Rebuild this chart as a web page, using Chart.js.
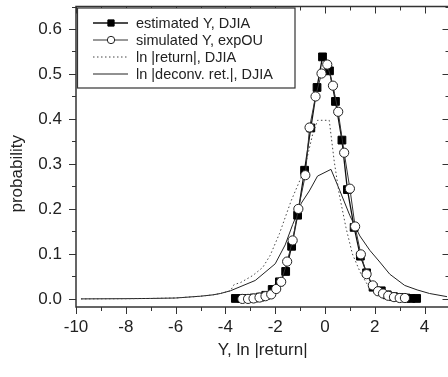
<!DOCTYPE html>
<html>
<head>
<meta charset="utf-8">
<script src="https://cdn.jsdelivr.net/npm/chart.js@4.4.1/dist/chart.umd.min.js"></script>
<style>
html, body { margin: 0; padding: 0; background: #fff; overflow: hidden; }
#wrap { width: 456px; height: 377px; }
</style>
</head>
<body>
<div id="wrap"><canvas id="myChart" width="456" height="377"></canvas></div>
<script>
// estimated Y, DJIA (filled squares)
const estX = [-3.6, -3.35, -3.1, -2.85, -2.6, -2.38, -2.12, -1.83, -1.58, -1.34, -1.1, -0.82, -0.57, -0.32, -0.1, 0.18, 0.42, 0.68, 0.9, 1.17, 1.42, 1.67, 1.93, 2.26, 2.5, 2.75, 3.0, 3.25, 3.45, 3.68];
const estY = [0.001, 0.001, 0.001, 0.002, 0.004, 0.008, 0.021, 0.038, 0.061, 0.117, 0.186, 0.286, 0.38, 0.47, 0.538, 0.507, 0.439, 0.353, 0.243, 0.159, 0.095, 0.058, 0.026, 0.018, 0.009, 0.005, 0.003, 0.002, 0.001, 0.001];

// simulated Y, expOU (open circles)
const simX = [-3.32, -3.09, -2.87, -2.63, -2.39, -2.16, -1.96, -1.76, -1.52, -1.3, -1.07, -0.79, -0.62, -0.38, -0.14, 0.09, 0.32, 0.53, 0.77, 1.0, 1.21, 1.44, 1.67, 1.92, 2.13, 2.33, 2.54, 2.77, 3.0, 3.21];
const simY = [0.0, 0.0, 0.001, 0.003, 0.006, 0.010, 0.022, 0.038, 0.083, 0.13, 0.2, 0.275, 0.381, 0.45, 0.501, 0.521, 0.474, 0.416, 0.325, 0.245, 0.161, 0.099, 0.055, 0.03, 0.017, 0.012, 0.007, 0.004, 0.002, 0.002];

// ln |return|, DJIA (dotted)
const retX = [-9.8, -8, -7, -6, -5, -4.5, -4.2, -3.8, -3.65, -3.4, -2.9, -2.5, -2.2, -1.83, -1.36, -0.96, -0.82, -0.5, -0.3, 0.17, 0.37, 0.57, 0.84, 1.1, 1.44, 1.77, 2.0];
const retY = [0.0, 0.0005, 0.001, 0.002, 0.006, 0.009, 0.012, 0.018, 0.032, 0.036, 0.052, 0.07, 0.097, 0.145, 0.218, 0.27, 0.29, 0.365, 0.397, 0.397, 0.306, 0.233, 0.159, 0.10, 0.056, 0.026, 0.015];

// ln |deconv. ret.|, DJIA (solid)
const decX = [-9.8, -8, -7, -6, -5, -4.5, -4.2, -3.8, -2.8, -2.0, -1.6, -1.3, -1.1, -0.95, -0.63, -0.3, 0.24, 0.6, 1.0, 1.4, 1.8, 2.2, 2.6, 3.2, 3.7, 4.2, 4.9];
const decY = [0.0, 0.0005, 0.001, 0.002, 0.006, 0.009, 0.012, 0.018, 0.041, 0.078, 0.12, 0.165, 0.192, 0.213, 0.24, 0.273, 0.288, 0.24, 0.185, 0.14, 0.108, 0.082, 0.055, 0.03, 0.02, 0.012, 0.005];

const seriesLabels = ['estimated Y, DJIA', 'simulated Y, expOU', 'ln |return|, DJIA', 'ln |deconv. ret.|, DJIA'];
const xTickValues = [-10, -8, -6, -4, -2, 0, 2, 4];
const yTickValues = [0.0, 0.1, 0.2, 0.3, 0.4, 0.5, 0.6];

const FONT = "'Liberation Sans', Arial, sans-serif";
const toPts = (xs, ys) => xs.map((x, i) => ({ x: x, y: ys[i] }));

const framePlugin = {
    id: 'framePlugin',
    afterDatasetsDraw(chart) {
        const ctx = chart.ctx;
        const a = chart.chartArea;
        const xs = chart.scales.x, ys = chart.scales.y;
        ctx.save();
        ctx.strokeStyle = '#333';
        ctx.lineWidth = 1;

        // ticks, major and minor, outward on bottom/left and inward on top/right
        const tick = (x1, y1, x2, y2) => { ctx.beginPath(); ctx.moveTo(x1, y1); ctx.lineTo(x2, y2); ctx.stroke(); };
        for (let v = -10; v <= 5; v++) {
            const px = Math.round(xs.getPixelForValue(v)) + 0.5;
            const len = (v % 2 === 0) ? 7 : 4;
            tick(px, a.bottom, px, a.bottom + len);
            tick(px, a.top, px, a.top + len);
        }
        for (let k = 0; k <= 13; k++) {
            const v = k * 0.05;
            const py = Math.round(ys.getPixelForValue(v)) + 0.5;
            const len = (k % 2 === 0) ? 7 : 4;
            tick(a.left - len, py, a.left, py);
            tick(a.right - len, py, a.right, py);
        }

        // frame
        ctx.lineWidth = 1.5;
        ctx.strokeRect(a.left, a.top, a.right - a.left, a.bottom - a.top);

        // legend box
        const bx = a.left + 1.5, by = a.top + 1.5, bw = 295 - bx, bh = 88 - by;
        ctx.fillStyle = '#fff';
        ctx.fillRect(bx, by, bw, bh);
        ctx.lineWidth = 1.2;
        ctx.strokeStyle = '#333';
        ctx.strokeRect(bx, by, bw, bh);

        chart.data.datasets.forEach((ds, i) => {
            const y = by + 15 + i * 17;
            ctx.save();
            ctx.strokeStyle = ds.borderColor;
            ctx.lineWidth = ds.borderWidth;
            ctx.setLineDash(ds.borderDash || []);
            ctx.beginPath();
            ctx.moveTo(93, y);
            ctx.lineTo(128, y);
            ctx.stroke();
            ctx.restore();
            if (ds.pointRadius > 0) {
                ctx.save();
                ctx.fillStyle = ds.pointBackgroundColor;
                ctx.strokeStyle = ds.pointBorderColor;
                ctx.lineWidth = ds.pointBorderWidth;
                Chart.helpers.drawPoint(ctx, {
                    pointStyle: ds.pointStyle,
                    radius: ds.pointRadius * 0.8,
                    borderWidth: ds.pointBorderWidth,
                    rotation: 0
                }, 111, y);
                ctx.restore();
            }
            ctx.fillStyle = '#222';
            ctx.font = '14.5px ' + FONT;
            ctx.textAlign = 'left';
            ctx.textBaseline = 'middle';
            ctx.fillText(ds.label, 136, y + 0.5);
        });

        // axis titles
        ctx.fillStyle = '#222';
        ctx.font = '17px ' + FONT;
        ctx.textAlign = 'center';
        ctx.textBaseline = 'middle';
        ctx.fillText('Y, ln |return|', (a.left + a.right) / 2, 350);
        ctx.save();
        ctx.translate(a.left - 59, (a.top + a.bottom) / 2 + 17);
        ctx.rotate(-Math.PI / 2);
        ctx.fillText('probability', 0, 0);
        ctx.restore();

        ctx.restore();
    }
};

const ctx = document.getElementById('myChart').getContext('2d');
const myChart = new Chart(ctx, {
    type: 'scatter',
    data: {
        datasets: [{
            label: seriesLabels[0],
            data: toPts(estX, estY),
            showLine: true,
            borderColor: '#111',
            borderWidth: 1.3,
            pointStyle: 'rect',
            pointRadius: 5.5,
            pointBackgroundColor: '#000',
            pointBorderColor: '#000',
            pointBorderWidth: 1,
            order: 2
        }, {
            label: seriesLabels[1],
            data: toPts(simX, simY),
            showLine: true,
            borderColor: '#333',
            borderWidth: 1,
            pointStyle: 'circle',
            pointRadius: 4.6,
            pointBackgroundColor: '#fff',
            pointBorderColor: '#222',
            pointBorderWidth: 1,
            order: 1
        }, {
            label: seriesLabels[2],
            data: toPts(retX, retY),
            showLine: true,
            borderColor: '#444',
            borderWidth: 1,
            borderDash: [1.5, 2.5],
            pointRadius: 0,
            order: 3
        }, {
            label: seriesLabels[3],
            data: toPts(decX, decY),
            showLine: true,
            borderColor: '#222',
            borderWidth: 1,
            pointRadius: 0,
            order: 4
        }]
    },
    options: {
        responsive: false,
        animation: false,
        layout: { padding: { top: 4, right: 5, left: 0, bottom: 0 } },
        plugins: {
            legend: { display: false },
            tooltip: { enabled: false }
        },
        scales: {
            x: {
                type: 'linear',
                min: -10,
                max: 5,
                grid: { display: false },
                border: { display: false },
                afterBuildTicks: s => { s.ticks = xTickValues.map(v => ({ value: v })); },
                afterFit: s => { s.height = 70; s.paddingLeft = 0; s.paddingRight = 0; },
                ticks: {
                    padding: 2,
                    color: '#222',
                    font: { family: FONT, size: 17 },
                    maxRotation: 0,
                    callback: v => String(v)
                }
            },
            y: {
                type: 'linear',
                min: -0.018,
                max: 0.65,
                grid: { display: false },
                border: { display: false },
                afterBuildTicks: s => { s.ticks = yTickValues.map(v => ({ value: v })); },
                afterFit: s => { s.width = 76; s.paddingTop = 0; s.paddingBottom = 0; },
                ticks: {
                    padding: 6,
                    color: '#222',
                    font: { family: FONT, size: 17 },
                    callback: v => Number(v).toFixed(1)
                }
            }
        }
    },
    plugins: [framePlugin]
});
</script>
</body>
</html>
